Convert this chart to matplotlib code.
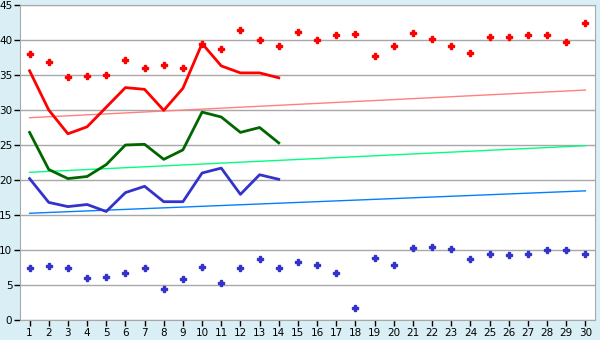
import numpy as np
import matplotlib
matplotlib.use('Agg')
from matplotlib import pyplot as plt

days = list(range(1, 31))

# max / min scatter points (all 30 days)
red_pts = [38.0, 36.9, 34.7, 34.8, 34.95, 37.2, 35.95, 36.4, 35.95, 39.4,
           38.7, 41.5, 39.95, 39.2, 41.2, 39.95, 40.7, 40.8, 37.7, 39.2,
           40.95, 40.1, 39.1, 38.1, 40.4, 40.5, 40.7, 40.7, 39.7, 42.4]
blue_pts = [7.5, 7.7, 7.4, 5.95, 6.1, 6.7, 7.5, 4.5, 5.8, 7.6,
            5.25, 7.4, 8.7, 7.4, 8.3, 7.8, 6.7, 1.7, 8.8, 7.8,
            10.25, 10.4, 10.1, 8.7, 9.4, 9.25, 9.4, 9.95, 9.95, 9.5]

# lines for the first 14 days
red_line = [35.6, 30.0, 26.6, 27.6, 30.4, 33.2, 32.95, 29.95, 33.1, 39.5,
            36.3, 35.3, 35.3, 34.6]
green_line = [26.8, 21.5, 20.2, 20.5, 22.2, 25.0, 25.1, 22.95, 24.3, 29.7,
              29.0, 26.8, 27.5, 25.3]
blue_line = [20.2, 16.8, 16.2, 16.5, 15.5, 18.2, 19.1, 16.9, 16.9, 21.0,
             21.7, 17.95, 20.75, 20.1]

# trend lines: value at day 1 and day 30
red_trend = [28.9, 32.85]
green_trend = [21.1, 24.9]
blue_trend = [15.25, 18.45]

bg = '#D9EFF5'
grid_c = '#A8A8A8'

fig = plt.figure(figsize=(6, 3.4), dpi=100, facecolor=bg)
ax = fig.add_axes([20/600, 20/340, 575/600, 315/340])
ax.set_facecolor('white')

ends = [days[0], days[-1]]
ax.plot(ends, red_trend, color='#FF8080', lw=1, zorder=2)
ax.plot(ends, green_trend, color='#00FF80', lw=1, zorder=2)
ax.plot(ends, blue_trend, color='#0080FF', lw=1, zorder=2)

n = len(red_line)
ax.plot(days[:n], red_line, color='#FF0000', lw=2, zorder=3)
ax.plot(days[:n], green_line, color='#006600', lw=2, zorder=3)
ax.plot(days[:n], blue_line, color='#3333CC', lw=2, zorder=3)

ax.plot(days, red_pts, ls='none', marker='P', ms=4, color='#FF0000',
        mec='#FF0000', zorder=4)
ax.plot(days, blue_pts, ls='none', marker='P', ms=4, color='#3333CC',
        mec='#3333CC', zorder=4)

ax.set_xlim(0.5, 30.5)
ax.set_ylim(0, 45)
ax.set_xticks(days)
ax.set_yticks(range(0, 46, 5))
ax.yaxis.grid(True, color=grid_c, lw=1)
ax.set_axisbelow(True)
for s in ax.spines.values():
    s.set_color(grid_c)
ax.tick_params(axis='both', colors='black', labelsize=7.5, length=4,
               width=1, direction='out', pad=1.5)

plt.savefig('out.png', facecolor=bg)
